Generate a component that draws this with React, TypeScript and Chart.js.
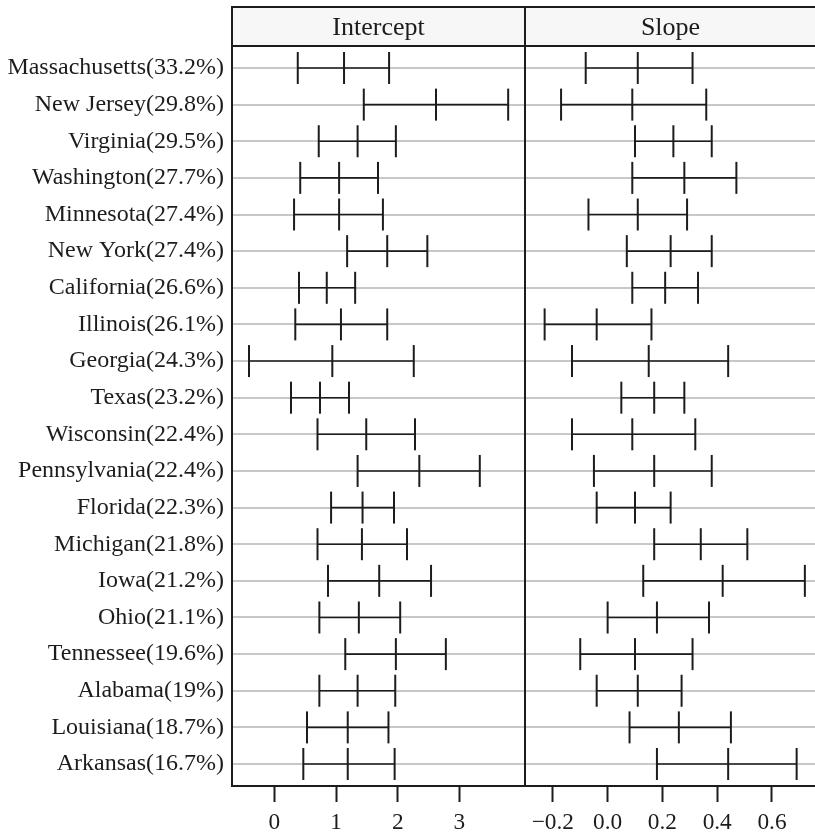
import React, { useEffect, useRef } from "react";
import { Chart, registerables } from "chart.js";

Chart.register(...registerables);

const stateLabels = [
  "Massachusetts(33.2%)",
  "New Jersey(29.8%)",
  "Virginia(29.5%)",
  "Washington(27.7%)",
  "Minnesota(27.4%)",
  "New York(27.4%)",
  "California(26.6%)",
  "Illinois(26.1%)",
  "Georgia(24.3%)",
  "Texas(23.2%)",
  "Wisconsin(22.4%)",
  "Pennsylvania(22.4%)",
  "Florida(22.3%)",
  "Michigan(21.8%)",
  "Iowa(21.2%)",
  "Ohio(21.1%)",
  "Tennessee(19.6%)",
  "Alabama(19%)",
  "Louisiana(18.7%)",
  "Arkansas(16.7%)",
];

const interceptLow = [0.38, 1.45, 0.72, 0.42, 0.32, 1.18, 0.4, 0.34, -0.41, 0.27, 0.7, 1.35, 0.92, 0.7, 0.87, 0.73, 1.15, 0.73, 0.53, 0.47];
const interceptMid = [1.13, 2.62, 1.35, 1.05, 1.05, 1.83, 0.85, 1.08, 0.94, 0.74, 1.49, 2.35, 1.43, 1.42, 1.7, 1.37, 1.97, 1.35, 1.19, 1.19];
const interceptHigh = [1.86, 3.79, 1.97, 1.68, 1.76, 2.48, 1.31, 1.83, 2.26, 1.21, 2.28, 3.33, 1.94, 2.15, 2.54, 2.04, 2.78, 1.96, 1.85, 1.95];

const slopeLow = [-0.08, -0.17, 0.1, 0.09, -0.07, 0.07, 0.09, -0.23, -0.13, 0.05, -0.13, -0.05, -0.04, 0.17, 0.13, 0.0, -0.1, -0.04, 0.08, 0.18];
const slopeMid = [0.11, 0.09, 0.24, 0.28, 0.11, 0.23, 0.21, -0.04, 0.15, 0.17, 0.09, 0.17, 0.1, 0.34, 0.42, 0.18, 0.1, 0.11, 0.26, 0.44];
const slopeHigh = [0.31, 0.36, 0.38, 0.47, 0.29, 0.38, 0.33, 0.16, 0.44, 0.28, 0.32, 0.38, 0.23, 0.51, 0.72, 0.37, 0.31, 0.27, 0.45, 0.69];

const interceptTicks = [0, 1, 2, 3];
const slopeTicks = [-0.2, 0.0, 0.2, 0.4, 0.6];
const slopeTickLabels = ["\u22120.2", "0.0", "0.2", "0.4", "0.6"];
const interceptTickLabels = ["0", "1", "2", "3"];

const DARK = "#1c1c1c";
const GRID = "#c8c8c8";
const FONT = "'Liberation Serif', 'Times New Roman', serif";

type PanelCfg = {
  title: string;
  low: number[];
  mid: number[];
  high: number[];
  ticks: number[];
  tickLabels: string[];
  xmin: number;
  xmax: number;
  showY: boolean;
  drawLeft: boolean;
  drawRight: boolean;
};

function makeChart(canvas: HTMLCanvasElement, p: PanelCfg) {
  const segData: any[] = [];
  p.low.forEach((lo, i) => {
    segData.push({ x: lo, y: i });
    segData.push({ x: p.high[i], y: i });
    segData.push({ x: p.high[i], y: null });
  });
  const capPts = (arr: number[]) => arr.map((v, i) => ({ x: v, y: i }));

  const stripPlugin = {
    id: "strip",
    afterDraw(chart: any) {
      const { ctx, chartArea } = chart;
      const { left, right, top, bottom } = chartArea;
      ctx.save();
      ctx.fillStyle = "#f7f7f7";
      ctx.fillRect(left, 6, right - left, top - 6);
      ctx.strokeStyle = DARK;
      ctx.lineWidth = 2;
      ctx.beginPath();
      ctx.moveTo(left, 7);
      ctx.lineTo(right, 7);
      ctx.moveTo(left, top);
      ctx.lineTo(right, top);
      if (p.drawLeft) {
        ctx.moveTo(left + 1, 6);
        ctx.lineTo(left + 1, bottom);
      }
      if (p.drawRight) {
        ctx.moveTo(right - 1, 6);
        ctx.lineTo(right - 1, bottom);
      }
      ctx.moveTo(left, bottom);
      ctx.lineTo(right, bottom);
      ctx.stroke();
      ctx.fillStyle = DARK;
      ctx.font = `26px ${FONT}`;
      ctx.textAlign = "center";
      ctx.textBaseline = "middle";
      ctx.fillText(p.title, (left + right) / 2, (top + 6) / 2 + 2);
      ctx.restore();
    },
  };

  const capDs = (arr: number[]) => ({
    data: capPts(arr),
    pointStyle: "line",
    rotation: 90,
    pointRadius: 16,
    borderColor: DARK,
    borderWidth: 2,
    clip: false,
  });

  return new Chart(canvas, {
    type: "scatter",
    data: {
      datasets: [
        {
          type: "line",
          data: segData,
          borderColor: DARK,
          borderWidth: 1.6,
          pointRadius: 0,
          spanGaps: false,
          fill: false,
          clip: false,
        } as any,
        capDs(p.low) as any,
        capDs(p.mid) as any,
        capDs(p.high) as any,
      ],
    },
    options: {
      animation: false,
      responsive: false,
      maintainAspectRatio: false,
      layout: { autoPadding: false, padding: { top: 46, left: 0, right: 0, bottom: 0 } },
      plugins: { legend: { display: false }, tooltip: { enabled: false } },
      scales: {
        x: {
          type: "linear",
          min: p.xmin,
          max: p.xmax,
          afterBuildTicks: (scale: any) => {
            scale.ticks = p.ticks.map((v) => ({ value: v }));
          },
          afterFit: (scale: any) => {
            scale.height = 47;
            scale.paddingLeft = 0;
            scale.paddingRight = 0;
          },
          grid: {
            drawOnChartArea: false,
            drawTicks: true,
            tickLength: 16,
            tickColor: DARK,
            tickWidth: 2,
          },
          border: { display: false },
          ticks: {
            color: DARK,
            font: { family: FONT, size: 23.3 },
            padding: 7,
            maxRotation: 0,
            autoSkip: false,
            callback: (_v: any, i: number) => p.tickLabels[i],
          },
        },
        y: {
          type: "linear",
          reverse: true,
          min: -0.6,
          max: 19.6,
          afterBuildTicks: (scale: any) => {
            scale.ticks = stateLabels.map((_, i) => ({ value: i }));
          },
          afterFit: (scale: any) => {
            scale.width = p.showY ? 231 : 0;
            scale.paddingTop = 0;
            scale.paddingBottom = 0;
          },
          grid: {
            color: GRID,
            lineWidth: 2,
            drawTicks: false,
          },
          border: { display: false },
          ticks: {
            display: p.showY,
            color: DARK,
            font: { family: FONT, size: 24 },
            padding: 7,
            autoSkip: false,
            callback: (v: any) => stateLabels[v as number],
          },
        },
      },
    },
    plugins: [stripPlugin],
  } as any);
}

export default function App() {
  const leftRef = useRef<HTMLCanvasElement>(null);
  const rightRef = useRef<HTMLCanvasElement>(null);

  useEffect(() => {
    document.body.style.margin = "0";
    const c1 = makeChart(leftRef.current!, {
      title: "Intercept",
      low: interceptLow,
      mid: interceptMid,
      high: interceptHigh,
      ticks: interceptTicks,
      tickLabels: interceptTickLabels,
      xmin: -0.702,
      xmax: 4.079,
      showY: true,
      drawLeft: true,
      drawRight: true,
    });
    const c2 = makeChart(rightRef.current!, {
      title: "Slope",
      low: slopeLow,
      mid: slopeMid,
      high: slopeHigh,
      ticks: slopeTicks,
      tickLabels: slopeTickLabels,
      xmin: -0.298,
      xmax: 0.757,
      showY: false,
      drawLeft: false,
      drawRight: false,
    });
    return () => {
      c1.destroy();
      c2.destroy();
    };
  }, []);

  return (
    <div style={{ position: "relative", width: 815, height: 833, background: "#fff" }}>
      <canvas ref={leftRef} width={526} height={833} style={{ position: "absolute", left: 0, top: 0, width: 526, height: 833 }} />
      <canvas ref={rightRef} width={289} height={833} style={{ position: "absolute", left: 526, top: 0, width: 289, height: 833 }} />
    </div>
  );
}
